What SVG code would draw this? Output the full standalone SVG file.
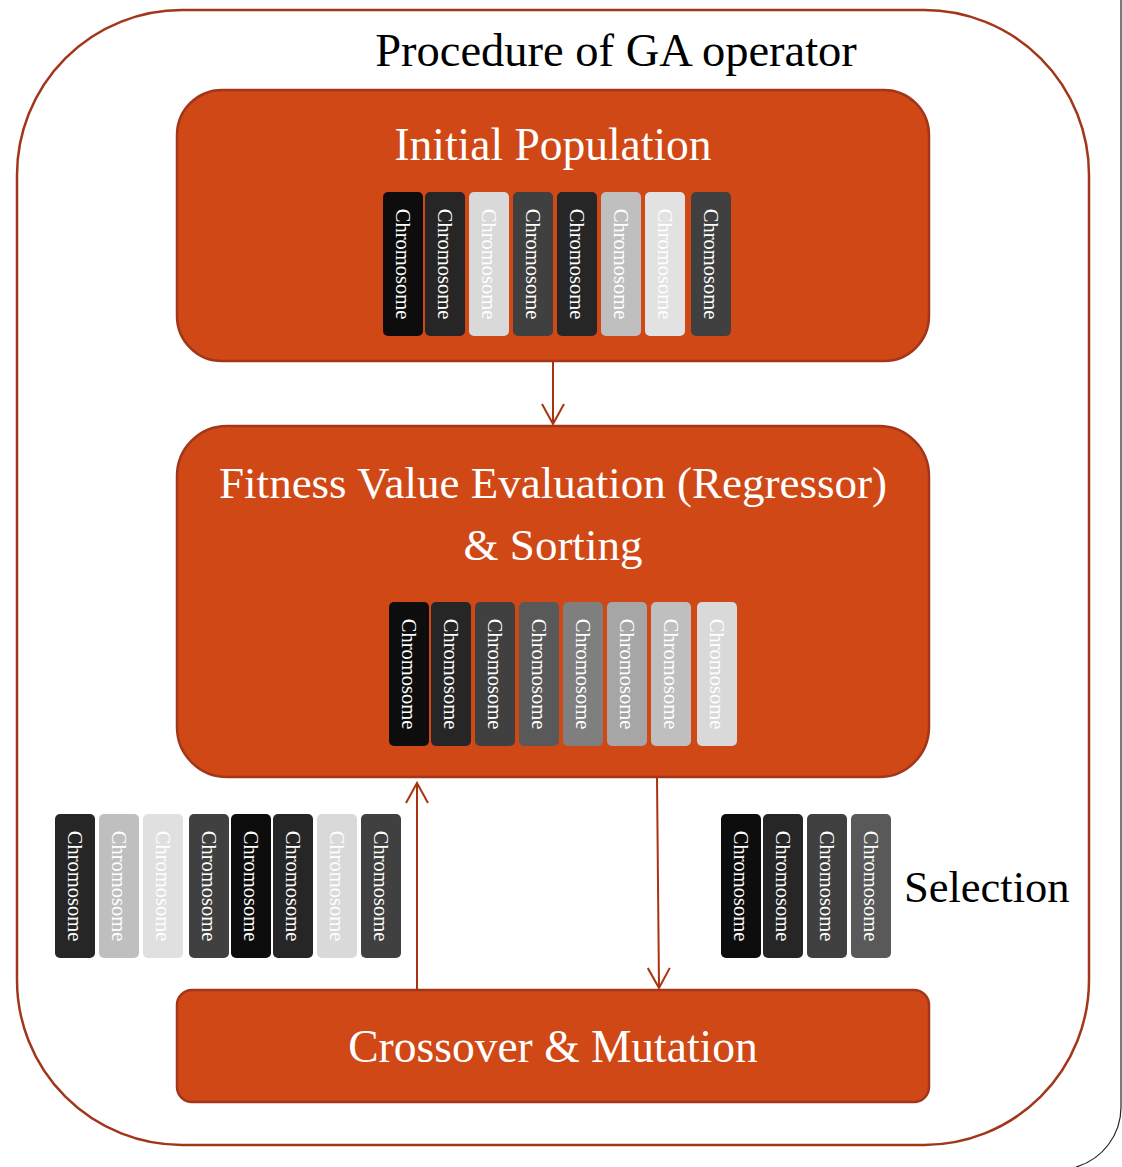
<svg xmlns="http://www.w3.org/2000/svg" width="1122" height="1167" viewBox="0 0 1122 1167">
<style>
.box{fill:#d14817;stroke:#a2361a;stroke-width:2.5}
.t{font-family:"Liberation Serif","Times New Roman",serif;font-size:45px;text-anchor:middle}
.w{fill:#ffffff}
.k{fill:#000000}
.ct{font-family:"Liberation Serif","Times New Roman",serif;font-size:20.5px;fill:#ffffff;text-anchor:middle}
.conn{stroke:#a8330f;stroke-width:2;fill:none}
</style>
<defs>
<marker id="arr" viewBox="0 0 24 24" refX="22" refY="12" markerWidth="24" markerHeight="24" markerUnits="userSpaceOnUse" orient="auto">
<path d="M2,1 L22,12 L2,23" fill="none" stroke="#a8330f" stroke-width="2"/>
</marker>
</defs>
<rect width="1122" height="1167" fill="#ffffff"/>
<path d="M1121,0 V1107 A62.5,62.5 0 0 1 1076,1167" fill="none" stroke="#222" stroke-width="1.2"/>
<g id="frame">
<rect x="17" y="10" width="1072" height="1135" rx="165" ry="165" fill="none" stroke="#a2361a" stroke-width="2.5"/>
<text class="t k" x="616" y="66" style="font-size:46.5px">Procedure of GA operator</text>
</g>
<g id="initial">
<rect class="box" x="177" y="90" width="752" height="271" rx="45"/>
<text class="t w" x="553" y="160" style="font-size:45.5px">Initial Population</text>
<g>
<rect x="383" y="192" width="40" height="144" rx="5" fill="#0d0d0d"/>
<rect x="425" y="192" width="40" height="144" rx="5" fill="#262626"/>
<rect x="469" y="192" width="40" height="144" rx="5" fill="#d9d9d9"/>
<rect x="513" y="192" width="40" height="144" rx="5" fill="#404040"/>
<rect x="557" y="192" width="40" height="144" rx="5" fill="#262626"/>
<rect x="601" y="192" width="40" height="144" rx="5" fill="#bfbfbf"/>
<rect x="645" y="192" width="40" height="144" rx="5" fill="#e2e2e2"/>
<rect x="691" y="192" width="40" height="144" rx="5" fill="#404040"/>
<text class="ct" transform="translate(403,264) rotate(90)" y="7">Chromosome</text>
<text class="ct" transform="translate(445,264) rotate(90)" y="7">Chromosome</text>
<text class="ct" transform="translate(489,264) rotate(90)" y="7">Chromosome</text>
<text class="ct" transform="translate(533,264) rotate(90)" y="7">Chromosome</text>
<text class="ct" transform="translate(577,264) rotate(90)" y="7">Chromosome</text>
<text class="ct" transform="translate(621,264) rotate(90)" y="7">Chromosome</text>
<text class="ct" transform="translate(665,264) rotate(90)" y="7">Chromosome</text>
<text class="ct" transform="translate(711,264) rotate(90)" y="7">Chromosome</text>
</g>
</g>
<g id="fitness">
<rect class="box" x="177" y="426" width="752" height="351" rx="50"/>
<text class="t w" x="553" y="498">Fitness Value Evaluation (Regressor)</text>
<text class="t w" x="553" y="560">&amp; Sorting</text>
<g>
<rect x="389" y="602" width="40" height="144" rx="5" fill="#0d0d0d"/>
<rect x="431" y="602" width="40" height="144" rx="5" fill="#262626"/>
<rect x="475" y="602" width="40" height="144" rx="5" fill="#404040"/>
<rect x="519" y="602" width="40" height="144" rx="5" fill="#595959"/>
<rect x="563" y="602" width="40" height="144" rx="5" fill="#7f7f7f"/>
<rect x="607" y="602" width="40" height="144" rx="5" fill="#a6a6a6"/>
<rect x="651" y="602" width="40" height="144" rx="5" fill="#bfbfbf"/>
<rect x="697" y="602" width="40" height="144" rx="5" fill="#d9d9d9"/>
<text class="ct" transform="translate(409,674) rotate(90)" y="7">Chromosome</text>
<text class="ct" transform="translate(451,674) rotate(90)" y="7">Chromosome</text>
<text class="ct" transform="translate(495,674) rotate(90)" y="7">Chromosome</text>
<text class="ct" transform="translate(539,674) rotate(90)" y="7">Chromosome</text>
<text class="ct" transform="translate(583,674) rotate(90)" y="7">Chromosome</text>
<text class="ct" transform="translate(627,674) rotate(90)" y="7">Chromosome</text>
<text class="ct" transform="translate(671,674) rotate(90)" y="7">Chromosome</text>
<text class="ct" transform="translate(717,674) rotate(90)" y="7">Chromosome</text>
</g>
</g>
<g id="offspring">
<rect x="55" y="814" width="40" height="144" rx="5" fill="#262626"/>
<rect x="99" y="814" width="40" height="144" rx="5" fill="#bfbfbf"/>
<rect x="143" y="814" width="40" height="144" rx="5" fill="#e0e0e0"/>
<rect x="189" y="814" width="40" height="144" rx="5" fill="#404040"/>
<rect x="231" y="814" width="40" height="144" rx="5" fill="#0d0d0d"/>
<rect x="273" y="814" width="40" height="144" rx="5" fill="#262626"/>
<rect x="317" y="814" width="40" height="144" rx="5" fill="#d9d9d9"/>
<rect x="361" y="814" width="40" height="144" rx="5" fill="#404040"/>
<text class="ct" transform="translate(75,886) rotate(90)" y="7">Chromosome</text>
<text class="ct" transform="translate(119,886) rotate(90)" y="7">Chromosome</text>
<text class="ct" transform="translate(163,886) rotate(90)" y="7">Chromosome</text>
<text class="ct" transform="translate(209,886) rotate(90)" y="7">Chromosome</text>
<text class="ct" transform="translate(251,886) rotate(90)" y="7">Chromosome</text>
<text class="ct" transform="translate(293,886) rotate(90)" y="7">Chromosome</text>
<text class="ct" transform="translate(337,886) rotate(90)" y="7">Chromosome</text>
<text class="ct" transform="translate(381,886) rotate(90)" y="7">Chromosome</text>
</g>
<g id="selection">
<rect x="721" y="814" width="40" height="144" rx="5" fill="#0d0d0d"/>
<rect x="763" y="814" width="40" height="144" rx="5" fill="#262626"/>
<rect x="807" y="814" width="40" height="144" rx="5" fill="#404040"/>
<rect x="851" y="814" width="40" height="144" rx="5" fill="#595959"/>
<text class="ct" transform="translate(741,886) rotate(90)" y="7">Chromosome</text>
<text class="ct" transform="translate(783,886) rotate(90)" y="7">Chromosome</text>
<text class="ct" transform="translate(827,886) rotate(90)" y="7">Chromosome</text>
<text class="ct" transform="translate(871,886) rotate(90)" y="7">Chromosome</text>
<text class="t k" x="904" y="902" style="text-anchor:start;font-size:44.5px">Selection</text>
</g>
<g id="crossover">
<rect class="box" x="177" y="990" width="752" height="112" rx="15"/>
<text class="t w" x="553" y="1062" style="font-size:45.5px">Crossover &amp; Mutation</text>
</g>
<g id="connectors">
<line class="conn" x1="553" y1="362" x2="553" y2="424" marker-end="url(#arr)"/>
<line class="conn" x1="417" y1="989" x2="417" y2="783" marker-end="url(#arr)"/>
<line class="conn" x1="657" y1="778" x2="659" y2="988" marker-end="url(#arr)"/>
</g>
</svg>
